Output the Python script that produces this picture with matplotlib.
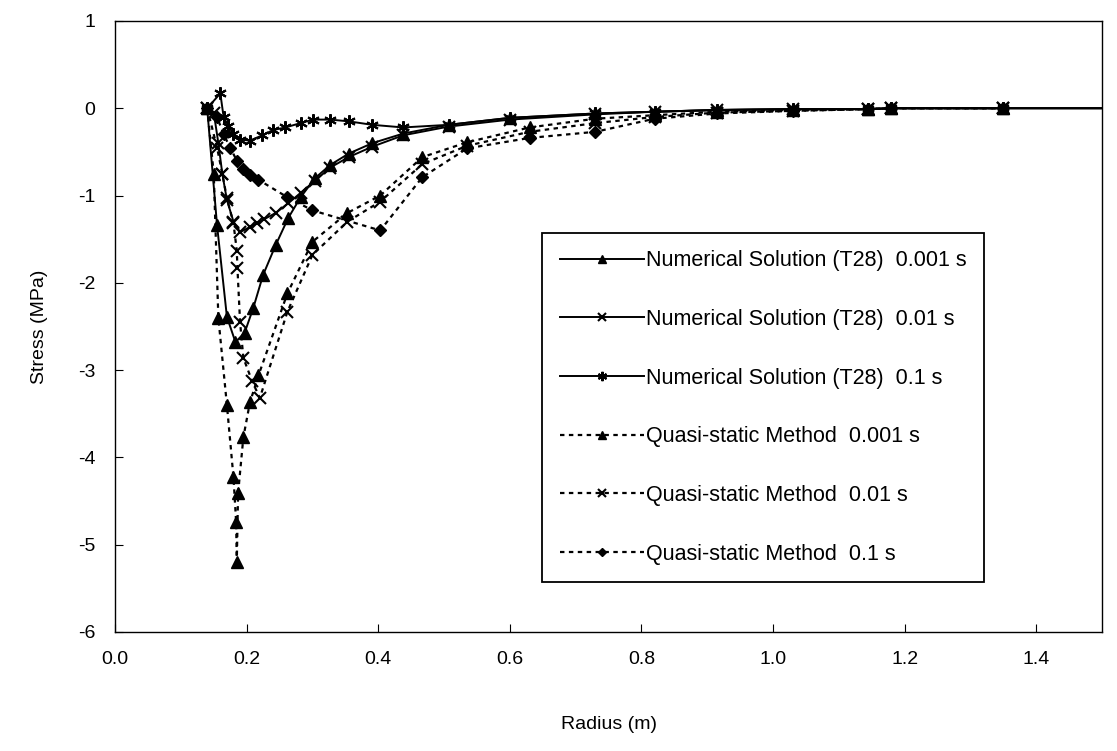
import matplotlib
matplotlib.use("Agg")
import matplotlib.pyplot as plt

plt.rcParams['font.family'] = ['Liberation Sans', 'DejaVu Sans']
plt.rcParams['axes.unicode_minus'] = False

# numerical solution (T28)
num_001_r = [0.14, 0.155, 0.17, 0.183, 0.197, 0.21, 0.225, 0.244, 0.263, 0.282, 0.304, 0.327,
             0.355, 0.391, 0.438, 0.507, 0.6, 0.73, 0.82, 0.915, 1.03, 1.145, 1.18, 1.35, 1.6]
num_001_s = [0, -1.34, -2.39, -2.68, -2.57, -2.29, -1.91, -1.57, -1.26, -1.02, -0.80, -0.65,
             -0.52, -0.40, -0.29, -0.19, -0.11, -0.06, -0.04, -0.02, -0.01, -0.01, 0, 0, 0]

num_01_r = [0.14, 0.15, 0.157, 0.163, 0.17, 0.18, 0.19, 0.205, 0.215, 0.227, 0.244, 0.263, 0.282,
            0.304, 0.327, 0.355, 0.391, 0.438, 0.507, 0.6, 0.73, 0.82, 0.915, 1.03, 1.145, 1.18,
            1.35, 1.6]
num_01_s = [0, -0.05, -0.4, -0.75, -1.05, -1.3, -1.42, -1.36, -1.32, -1.27, -1.2, -1.09, -0.97,
            -0.83, -0.68, -0.56, -0.44, -0.31, -0.21, -0.13, -0.07, -0.04, -0.02, -0.01, -0.01, 0,
            0, 0]

num_1_r = [0.14, 0.16, 0.165, 0.172, 0.18, 0.19, 0.205, 0.224, 0.24, 0.259, 0.282, 0.301, 0.327,
           0.355, 0.391, 0.438, 0.507, 0.6, 0.73, 0.82, 0.915, 1.03, 1.145, 1.18, 1.35, 1.6]
num_1_s = [0, 0.17, -0.1, -0.2, -0.3, -0.36, -0.37, -0.31, -0.25, -0.22, -0.17, -0.13, -0.13,
           -0.15, -0.19, -0.22, -0.19, -0.11, -0.06, -0.04, -0.02, -0.01, -0.01, 0, 0, 0]

# quasi-static method
qs_001_r = [0.14, 0.15, 0.157, 0.17, 0.18, 0.184, 0.185, 0.187, 0.195, 0.205, 0.218, 0.262,
            0.3, 0.353, 0.403, 0.467, 0.535, 0.63, 0.73, 0.82, 0.915, 1.03, 1.145, 1.18, 1.35]
qs_001_s = [0, -0.75, -2.4, -3.4, -4.23, -4.74, -5.2, -4.41, -3.77, -3.37, -3.06, -2.12,
            -1.53, -1.2, -1.0, -0.56, -0.39, -0.22, -0.12, -0.08, -0.04, -0.02, -0.01, 0, 0]

qs_01_r = [0.14, 0.155, 0.163, 0.17, 0.18, 0.185, 0.186, 0.19, 0.195, 0.208, 0.22, 0.262, 0.3,
           0.353, 0.403, 0.467, 0.535, 0.63, 0.73, 0.82, 0.915, 1.03, 1.145, 1.18, 1.35]
qs_01_s = [0, -0.45, -0.75, -1.03, -1.32, -1.63, -1.83, -2.45, -2.86, -3.12, -3.32, -2.33, -1.68,
           -1.3, -1.07, -0.64, -0.43, -0.27, -0.17, -0.1, -0.05, -0.03, -0.01, 0, 0]

qs_1_r = [0.14, 0.155, 0.165, 0.175, 0.185, 0.195, 0.205, 0.218, 0.262, 0.3, 0.403, 0.467,
          0.535, 0.63, 0.73, 0.82, 0.915, 1.03, 1.145, 1.18, 1.35]
qs_1_s = [0, -0.1, -0.3, -0.45, -0.6, -0.7, -0.77, -0.82, -1.02, -1.17, -1.40, -0.79,
          -0.46, -0.34, -0.27, -0.12, -0.06, -0.03, -0.01, 0, 0]

labels = ["Numerical Solution (T28)  0.001 s",
          "Numerical Solution (T28)  0.01 s",
          "Numerical Solution (T28)  0.1 s",
          "Quasi-static Method  0.001 s",
          "Quasi-static Method  0.01 s",
          "Quasi-static Method  0.1 s"]

fig = plt.figure(figsize=(11.17, 7.51), dpi=100)
ax = fig.add_axes([0.103, 0.1585, 0.8836, 0.8136])

dot = (0, (2, 2))
star = (6, 2, 0)
ax.plot(num_001_r, num_001_s, color='black', lw=1.4, marker='^', ms=8, label=labels[0])
ax.plot(num_01_r, num_01_s, color='black', lw=1.4, marker='x', ms=8, mew=1.5, label=labels[1])
ax.plot(num_1_r, num_1_s, color='black', lw=1.4, marker=star, ms=9, mew=1.5, label=labels[2])
ax.plot(qs_001_r, qs_001_s, color='black', lw=1.6, ls=dot, marker='^', ms=8, label=labels[3])
ax.plot(qs_01_r, qs_01_s, color='black', lw=1.6, ls=dot, marker='x', ms=8, mew=1.5, label=labels[4])
ax.plot(qs_1_r, qs_1_s, color='black', lw=1.6, ls=dot, marker='D', ms=6, label=labels[5])

ax.set_xlim(0, 1.5)
ax.set_ylim(-6, 1)
ax.set_xticks([0.0, 0.2, 0.4, 0.6, 0.8, 1.0, 1.2, 1.4])
ax.set_xticklabels(["0.0", "0.2", "0.4", "0.6", "0.8", "1.0", "1.2", "1.4"])
ax.set_yticks(range(-6, 2))
ax.tick_params(direction='in', length=6, labelsize=14, pad=14, color='black')
for s in ax.spines.values():
    s.set_linewidth(1.0)

ax.set_xlabel("Radius (m)", fontsize=14, labelpad=34)
ax.set_ylabel("Stress (MPa)", fontsize=14, labelpad=22)

leg = ax.legend(loc='upper left', bbox_to_anchor=(0.433, 0.653), borderaxespad=0,
                fontsize=15.5, handlelength=3.9, labelspacing=1.75, handletextpad=0.1,
                borderpad=0.8, fancybox=False, framealpha=1, edgecolor='black',
                markerscale=0.75)
leg.get_frame().set_linewidth(1.3)

fig.savefig('out.png', dpi=100)
